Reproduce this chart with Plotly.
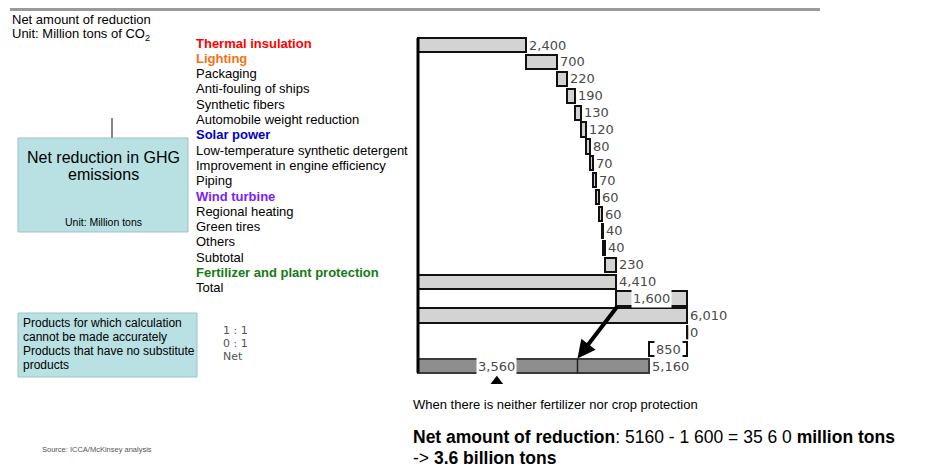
import plotly.graph_objects as go

# chart data
categories = ["Thermal insulation", "Lighting", "Packaging", "Anti-fouling of ships",
              "Synthetic fibers", "Automobile weight reduction", "Solar power",
              "Low-temperature synthetic detergent", "Improvement in engine efficiency",
              "Piping", "Wind turbine", "Regional heating", "Green tires", "Others",
              "Subtotal", "Fertilizer and plant protection", "Total"]
label_colors = ["#ff0000", "#f47216", None, None, None, None, "#0000cc", None, None,
                None, "#7a1cff", None, None, None, None, "#157a15", None]
extra_rows = ["1 : 1", "0 : 1", "Net"]
values = [2400, 700, 220, 190, 130, 120, 80, 70, 70, 60, 60, 40, 40, 230,
          4410, 1600, 6010, 0, -850, 5160]
kinds = ["step"] * 14 + ["total", "step", "total", "step", "step", "total"]

# page is offset by the body margin, so the figure is drawn 8px smaller
OFF = 8
W, H = 925 - OFF, 468 - OFF
px = lambda x: (x - OFF) / W
py = lambda y: 1 - (y - OFF) / H

# waterfall bases
bases, lengths = [], []
run = 0
for v, k in zip(values, kinds):
    if k == "total":
        bases.append(0)
        lengths.append(run)
    else:
        bases.append(run)
        lengths.append(v)
        run += v
rows = list(range(len(values)))
net_row = rows[-1]
fert = values[15]
net_after = values[-1] - fert

fill = ["#d3d3d3"] * len(values)
fill[18] = "#ffffff"
fill[-1] = "#8e8e8e"
line_c = ["#111111"] * len(values)
line_c[-1] = "#3a3a3a"

fig = go.Figure()
fig.add_trace(go.Bar(
    y=rows, x=lengths, base=bases, orientation="h", width=0.84,
    marker=dict(color=fill, line=dict(color=line_c, width=2)),
    hoverinfo="skip", showlegend=False))

# zero row drawn as a line, divider on the net bar
zero_x = bases[17] + lengths[17]
fig.add_trace(go.Scatter(x=[zero_x, zero_x], y=[17 - 0.42, 17 + 0.42], mode="lines",
                         line=dict(color="#111", width=2), showlegend=False, hoverinfo="skip"))
fig.add_trace(go.Scatter(x=[net_after, net_after], y=[net_row - 0.42, net_row + 0.42],
                         mode="lines", line=dict(color="#222", width=1.5),
                         showlegend=False, hoverinfo="skip"))
# axis line
fig.add_trace(go.Scatter(x=[0, 0], y=[-0.42, net_row + 0.4], mode="lines",
                         line=dict(color="#000", width=3), showlegend=False, hoverinfo="skip"))
# marker under net label
fig.add_trace(go.Scatter(x=[1760], y=[net_row + 0.9], mode="markers",
                         marker=dict(symbol="triangle-up", size=11, color="#000"),
                         showlegend=False, hoverinfo="skip"))

ann = []
vfont = dict(family="DejaVu Sans", size=13, color="#4a4a4a")
for i, (b, l) in enumerate(zip(bases, lengths)):
    txt = f"{abs(values[i]):,}"
    if i in (15, 18):
        ann.append(dict(x=b + l / 2, y=i, xref="x", yref="y", text=txt, showarrow=False,
                        font=vfont, bgcolor="white", borderpad=1))
    elif i == net_row:
        ann.append(dict(x=1760, y=i, xref="x", yref="y", text=f"{net_after:,}", showarrow=False,
                        font=vfont, bgcolor="white", borderpad=1))
        ann.append(dict(x=b + l, y=i, xref="x", yref="y", text=txt, showarrow=False,
                        xanchor="left", xshift=1, font=vfont))
    else:
        ann.append(dict(x=max(b, b + l), y=i, xref="x", yref="y", text=txt, showarrow=False,
                        xanchor="left", xshift=1, font=vfont))

# arrow from fertilizer bar to net bar
ann.append(dict(x=net_after, y=net_row - 0.45, xref="x", yref="y",
                ax=bases[15] + 60, ay=15.4, axref="x", ayref="y", text="",
                showarrow=True, arrowhead=2, arrowsize=0.9, arrowwidth=4, arrowcolor="#000"))

# left category labels
for k, (c, col) in enumerate(zip(categories, label_colors)):
    t = f"<b>{c}</b>" if col else c
    ann.append(dict(x=px(194), y=py(43 + 15.3 * k), xref="paper", yref="paper", text=t,
                    showarrow=False, xanchor="left", yanchor="middle",
                    font=dict(family="Liberation Sans, Arial", size=13, color=col or "#000")))
for k, c in enumerate(extra_rows):
    ann.append(dict(x=px(221), y=py(330 + 13.3 * k), xref="paper", yref="paper", text=c,
                    showarrow=False, xanchor="left", yanchor="middle",
                    font=dict(family="DejaVu Sans", size=11, color="#555")))

def txt(x, y, t, size, color="#000", anchor="left", family="Liberation Sans, Arial"):
    ann.append(dict(x=px(x), y=py(y), xref="paper", yref="paper", text=t, showarrow=False,
                    xanchor=anchor, yanchor="middle",
                    font=dict(family=family, size=size, color=color)))

txt(10, 20, "Net amount of reduction", 13)
txt(10, 35, "Unit: Million tons of CO<sub>2</sub>", 13)
txt(103, 157, "Net reduction in GHG", 16, anchor="center")
txt(103, 174, "emissions", 16, anchor="center")
txt(103, 222, "Unit: Million tons", 10.5, anchor="center")
for k, t in enumerate(["Products for which calculation", "cannot be made accurately",
                       "Products that have no substitute", "products"]):
    txt(21, 323 + 14 * k, t, 12)
txt(411, 404, "When there is neither fertilizer nor crop protection", 13)
txt(411, 437, "<b>Net amount of reduction</b>: 5160 - 1 600 = 35 6 0 <b>million tons</b>", 17.5)
txt(411, 458, "-> <b>3.6 billion tons</b>", 17.5)
txt(40, 449, "Source: ICCA/McKinsey analysis", 7.5, color="#555")

shapes = [
    dict(type="line", xref="paper", yref="paper", x0=px(10), x1=px(820), y0=py(9.5), y1=py(9.5),
         line=dict(color="#9a9a9a", width=3)),
    dict(type="line", xref="paper", yref="paper", x0=px(112), x1=px(112), y0=py(118), y1=py(138),
         line=dict(color="#888", width=2)),
    dict(type="rect", xref="paper", yref="paper", x0=px(18), x1=px(188), y0=py(138), y1=py(232),
         fillcolor="#b9e0e3", line=dict(color="#9cc3c6", width=1), layer="below"),
    dict(type="rect", xref="paper", yref="paper", x0=px(18), x1=px(197), y0=py(313), y1=py(377),
         fillcolor="#b9e0e3", line=dict(color="#9cc3c6", width=1), layer="below"),
]

scale = 0.0448  # px per million tons
zero_px = 418 - OFF
row0, step = 45 - OFF, 16.9
fig.update_layout(
    width=W, height=H, margin=dict(l=0, r=0, t=0, b=0),
    paper_bgcolor="white", plot_bgcolor="white",
    xaxis=dict(range=[-zero_px / scale, (W - zero_px) / scale], visible=False, domain=[0, 1]),
    yaxis=dict(range=[(H - row0) / step, -row0 / step], visible=False, domain=[0, 1]),
    annotations=ann, shapes=shapes, bargap=0,
)
fig.write_html("out.html")
